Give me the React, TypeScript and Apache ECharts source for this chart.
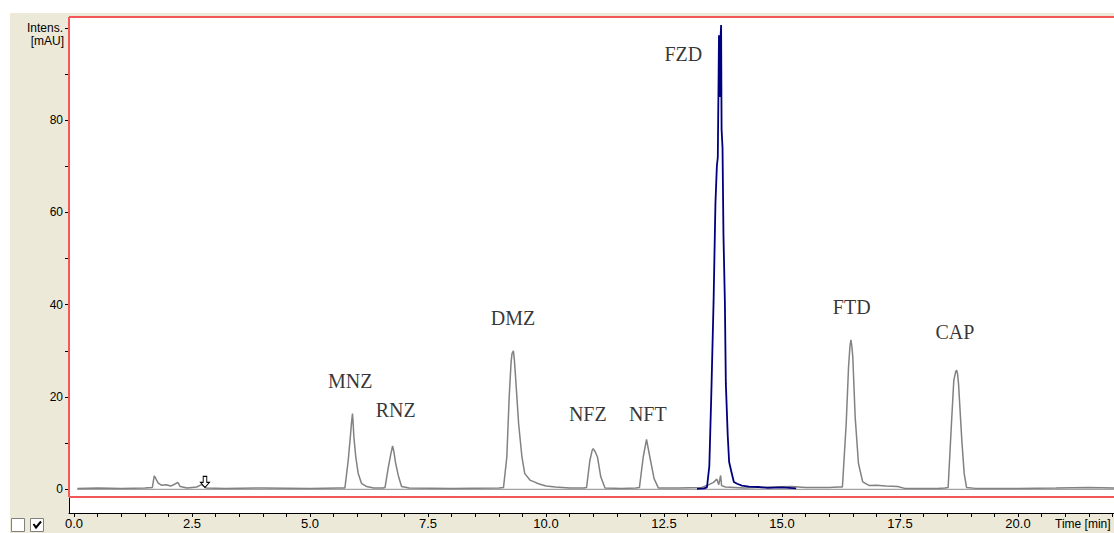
import React, { useEffect, useRef } from "react";
import * as echarts from "echarts";

// Axis ticks and labels (time in min, intensity in mAU)
const timeLabels = [0, 2.5, 5, 7.5, 10, 12.5, 15, 17.5, 20];
const timeTicks = [
  0, 0.5, 1, 1.5, 2, 2.5, 3, 3.5, 4, 4.5, 5, 5.5, 6, 6.5, 7, 7.5, 8, 8.5, 9, 9.5, 10, 10.5, 11,
  11.5, 12, 12.5, 13, 13.5, 14, 14.5, 15, 15.5, 16, 16.5, 17, 17.5, 18, 18.5, 19, 19.5, 20, 20.5,
  21, 21.5, 22,
];
const intensityTicks = [0, 10, 20, 30, 40, 50, 60, 70, 80, 90, 100];
const intensityLabels = [0, 20, 40, 60, 80, 100];

// Visible window of the plot
const X_MIN = -0.106;
const X_MAX = 22.034;
const Y_MIN = -5.135;
const Y_MAX = 102.34;
const FRAME_BOTTOM = -1.67;

// Flat reference trace
const blankTrace: [number, number][] = [
  [0.07, 0],
  [22.05, 0],
];

// UV trace of the mixed standard (grey)
const sampleTrace: [number, number][] = [
  [0.07, 0.2], [0.5, 0.3], [1.0, 0.2], [1.5, 0.3], [1.66, 0.4], [1.7, 2.9], [1.73, 2.4],
  [1.78, 1.4], [1.85, 0.9], [1.95, 1.0], [2.05, 0.7], [2.15, 1.2], [2.2, 1.5], [2.25, 0.6],
  [2.4, 0.3], [2.6, 0.5], [2.7, 1.0], [2.8, 0.3], [3.2, 0.2], [4.0, 0.3], [5.0, 0.2], [5.6, 0.3],
  // MNZ
  [5.74, 0.3], [5.81, 6.3], [5.86, 12.0], [5.88, 14.5], [5.9, 16.4], [5.91, 15.0], [5.93, 11.3],
  [5.97, 7.0], [6.02, 3.5], [6.09, 1.3], [6.2, 0.6], [6.35, 0.3], [6.55, 0.3],
  // RNZ
  [6.59, 0.4], [6.66, 4.8], [6.71, 7.5], [6.75, 9.4], [6.78, 8.0], [6.81, 5.9], [6.87, 3.0],
  [6.94, 0.6], [7.1, 0.3], [8.0, 0.2], [9.0, 0.3],
  // DMZ
  [9.1, 0.4], [9.17, 7.0], [9.22, 20.0], [9.26, 27.5], [9.28, 29.4], [9.31, 30.0], [9.33, 28.0],
  [9.36, 23.6], [9.42, 14.2], [9.49, 7.0], [9.55, 3.4], [9.66, 2.0], [9.75, 1.6], [9.84, 1.2],
  [10.0, 0.7], [10.2, 0.5], [10.5, 0.3], [10.8, 0.3],
  // NFZ
  [10.86, 0.4], [10.93, 6.3], [10.98, 8.5], [11.0, 8.8], [11.04, 8.2], [11.09, 7.0], [11.16, 2.7],
  [11.25, 0.3], [11.6, 0.2], [11.9, 0.3],
  // NFT
  [11.98, 0.4], [12.06, 7.0], [12.13, 10.8], [12.2, 7.0], [12.29, 2.3], [12.38, 0.3], [12.8, 0.3],
  [13.3, 0.4],
  // under FZD
  [13.45, 1.0], [13.55, 1.5], [13.62, 2.2], [13.66, 1.0], [13.7, 3.0], [13.72, 0.8], [13.8, 0.5],
  [14.2, 0.3], [14.8, 0.5], [15.2, 0.6], [15.5, 0.4], [16.0, 0.4], [16.2, 0.5],
  // FTD
  [16.28, 0.5], [16.36, 14.2], [16.41, 26.5], [16.44, 31.0], [16.46, 32.4], [16.48, 31.0],
  [16.5, 28.7], [16.55, 15.7], [16.62, 5.6], [16.71, 1.6], [16.85, 0.8], [17.0, 0.9], [17.2, 0.7],
  [17.45, 0.6], [17.6, 0.2], [18.3, 0.2], [18.45, 0.3],
  // CAP
  [18.52, 0.4], [18.59, 14.2], [18.64, 23.6], [18.68, 25.5], [18.7, 25.8], [18.72, 25.0],
  [18.74, 22.9], [18.81, 10.6], [18.86, 3.4], [18.91, 0.4], [19.1, 0.2], [20.0, 0.2], [20.8, 0.3],
  [21.5, 0.4], [22.05, 0.3],
];

// Trace at the FZD wavelength (blue)
const fzdTrace: [number, number][] = [
  [13.2, 0.1], [13.35, 0.2], [13.41, 0.4], [13.46, 5.0], [13.5, 19.7], [13.55, 40.5], [13.59, 62.0],
  [13.62, 70.0], [13.64, 72.0], [13.665, 98.4], [13.68, 85.0], [13.69, 96.0],
  [13.71, 100.6], [13.72, 78.0], [13.74, 74.0], [13.76, 55.0], [13.79, 40.5], [13.81, 23.0],
  [13.85, 11.7], [13.88, 5.9], [13.93, 3.7], [13.98, 1.6], [14.05, 1.2], [14.15, 0.8], [14.3, 0.6],
  [14.5, 0.5], [14.7, 0.3], [15.0, 0.4], [15.3, 0.2],
];

// Compound names and where each name is written
const peakNames = ["MNZ", "RNZ", "DMZ", "NFZ", "NFT", "FZD", "FTD", "CAP"];
const peakLabelTime = [5.854, 6.816, 9.3, 10.885, 12.157, 12.909, 16.477, 18.665];
const peakLabelIntensity = [23.5, 17.1, 37.05, 16.4, 16.3, 94.4, 39.5, 34.0];

// Injection marker
const injectionMark: [number, number] = [2.775, 1.6];

const AXIS_FONT = "'Liberation Sans', Arial, sans-serif";

export default function App() {
  const ref = useRef<HTMLDivElement>(null);

  useEffect(() => {
    if (!ref.current) return;
    const chart = echarts.init(ref.current, undefined, { renderer: "svg" });

    const option: any = {
      animation: false,
      backgroundColor: "transparent",
      grid: {
        left: 69,
        top: 17,
        right: 0,
        bottom: 20,
        show: true,
        backgroundColor: "#ffffff",
        borderWidth: 0,
      },
      xAxis: {
        type: "value",
        min: X_MIN,
        max: X_MAX,
        axisLine: { show: true, onZero: false, lineStyle: { color: "#000", width: 1 } },
        axisTick: { show: true, length: 4, customValues: timeTicks, lineStyle: { color: "#000" } },
        axisLabel: {
          customValues: timeLabels,
          formatter: (v: number) => v.toFixed(1),
          margin: 4,
          color: "#000",
          fontFamily: AXIS_FONT,
          fontSize: 13,
        },
        splitLine: { show: false },
      },
      yAxis: {
        type: "value",
        min: Y_MIN,
        max: Y_MAX,
        axisLine: { show: true, onZero: false, lineStyle: { color: "#000", width: 1 } },
        axisTick: { show: true, length: 4, customValues: intensityTicks, lineStyle: { color: "#000" } },
        axisLabel: {
          customValues: intensityLabels,
          formatter: (v: number) => (v === 100 ? "Intens." : String(v)),
          margin: 6,
          color: "#000",
          fontFamily: AXIS_FONT,
          fontSize: 12,
        },
        splitLine: { show: false },
      },
      graphic: [
        {
          type: "text",
          right: 1114 - 64,
          top: 35,
          style: { text: "[mAU]", fill: "#000", font: `12px ${AXIS_FONT}`, textAlign: "right" },
        },
        {
          type: "text",
          left: 1055,
          top: 518,
          style: { text: "Time [min]", fill: "#000", font: `12px ${AXIS_FONT}` },
        },
        {
          type: "rect",
          shape: { x: 11.5, y: 518.5, width: 13, height: 13 },
          style: { fill: "#fff", stroke: "#808080", lineWidth: 1 },
        },
        {
          type: "rect",
          shape: { x: 30.5, y: 518.5, width: 13, height: 13 },
          style: { fill: "#fff", stroke: "#808080", lineWidth: 1 },
        },
        {
          type: "polyline",
          shape: { points: [[33.5, 524], [36, 527.5], [41, 521.5]] },
          style: { stroke: "#000", lineWidth: 2, fill: "none" },
        },
      ],
      series: [
        {
          name: "blank",
          type: "line",
          data: blankTrace,
          symbol: "none",
          lineStyle: { color: "#8c8c8c", width: 1 },
          z: 2,
        },
        {
          name: "sample",
          type: "line",
          data: sampleTrace,
          symbol: "none",
          lineStyle: { color: "#828282", width: 1.5 },
          z: 3,
          markPoint: {
            silent: true,
            symbol: "path://M3,0 L7,0 L7,6 L10,6 L5,11 L0,6 L3,6 Z",
            symbolSize: [9, 11],
            itemStyle: { color: "#fff", borderColor: "#000", borderWidth: 1 },
            label: { show: false },
            data: [{ coord: injectionMark }],
          },
        },
        {
          name: "FZD",
          type: "line",
          data: fzdTrace,
          symbol: "none",
          lineStyle: { color: "#00007f", width: 1.8 },
          z: 4,
        },
        {
          name: "peaks",
          type: "scatter",
          symbolSize: 1,
          itemStyle: { color: "transparent" },
          data: peakNames.map((n, i) => ({ name: n, value: [peakLabelTime[i], peakLabelIntensity[i]] })),
          label: {
            show: true,
            position: "inside",
            formatter: "{b}",
            color: "#000",
            fontFamily: "'Liberation Serif', 'Times New Roman', serif",
            fontSize: 20,
          },
          z: 5,
        },
        {
          name: "frame",
          type: "line",
          data: [],
          clip: false,
          z: 6,
          markLine: {
            silent: true,
            symbol: "none",
            label: { show: false },
            lineStyle: { color: "#f25858", width: 2, type: "solid" },
            data: [
              [{ coord: [X_MIN, Y_MAX] }, { coord: [X_MAX, Y_MAX] }],
              [{ coord: [X_MIN, FRAME_BOTTOM] }, { coord: [X_MAX, FRAME_BOTTOM] }],
              [{ coord: [X_MIN, FRAME_BOTTOM] }, { coord: [X_MIN, Y_MAX] }],
            ],
          },
        },
      ],
    };

    chart.setOption(option);
    return () => chart.dispose();
  }, []);

  return (
    <div
      style={{
        position: "fixed",
        left: 0,
        top: 0,
        width: 1114,
        height: 533,
        background: "#ffffff",
        overflow: "hidden",
      }}
    >
      <div
        style={{ position: "absolute", left: 10, top: 13, right: 0, bottom: 0, background: "#ECE9D8" }}
      />
      <div ref={ref} style={{ position: "absolute", left: 0, top: 0, width: 1114, height: 533 }} />
    </div>
  );
}
